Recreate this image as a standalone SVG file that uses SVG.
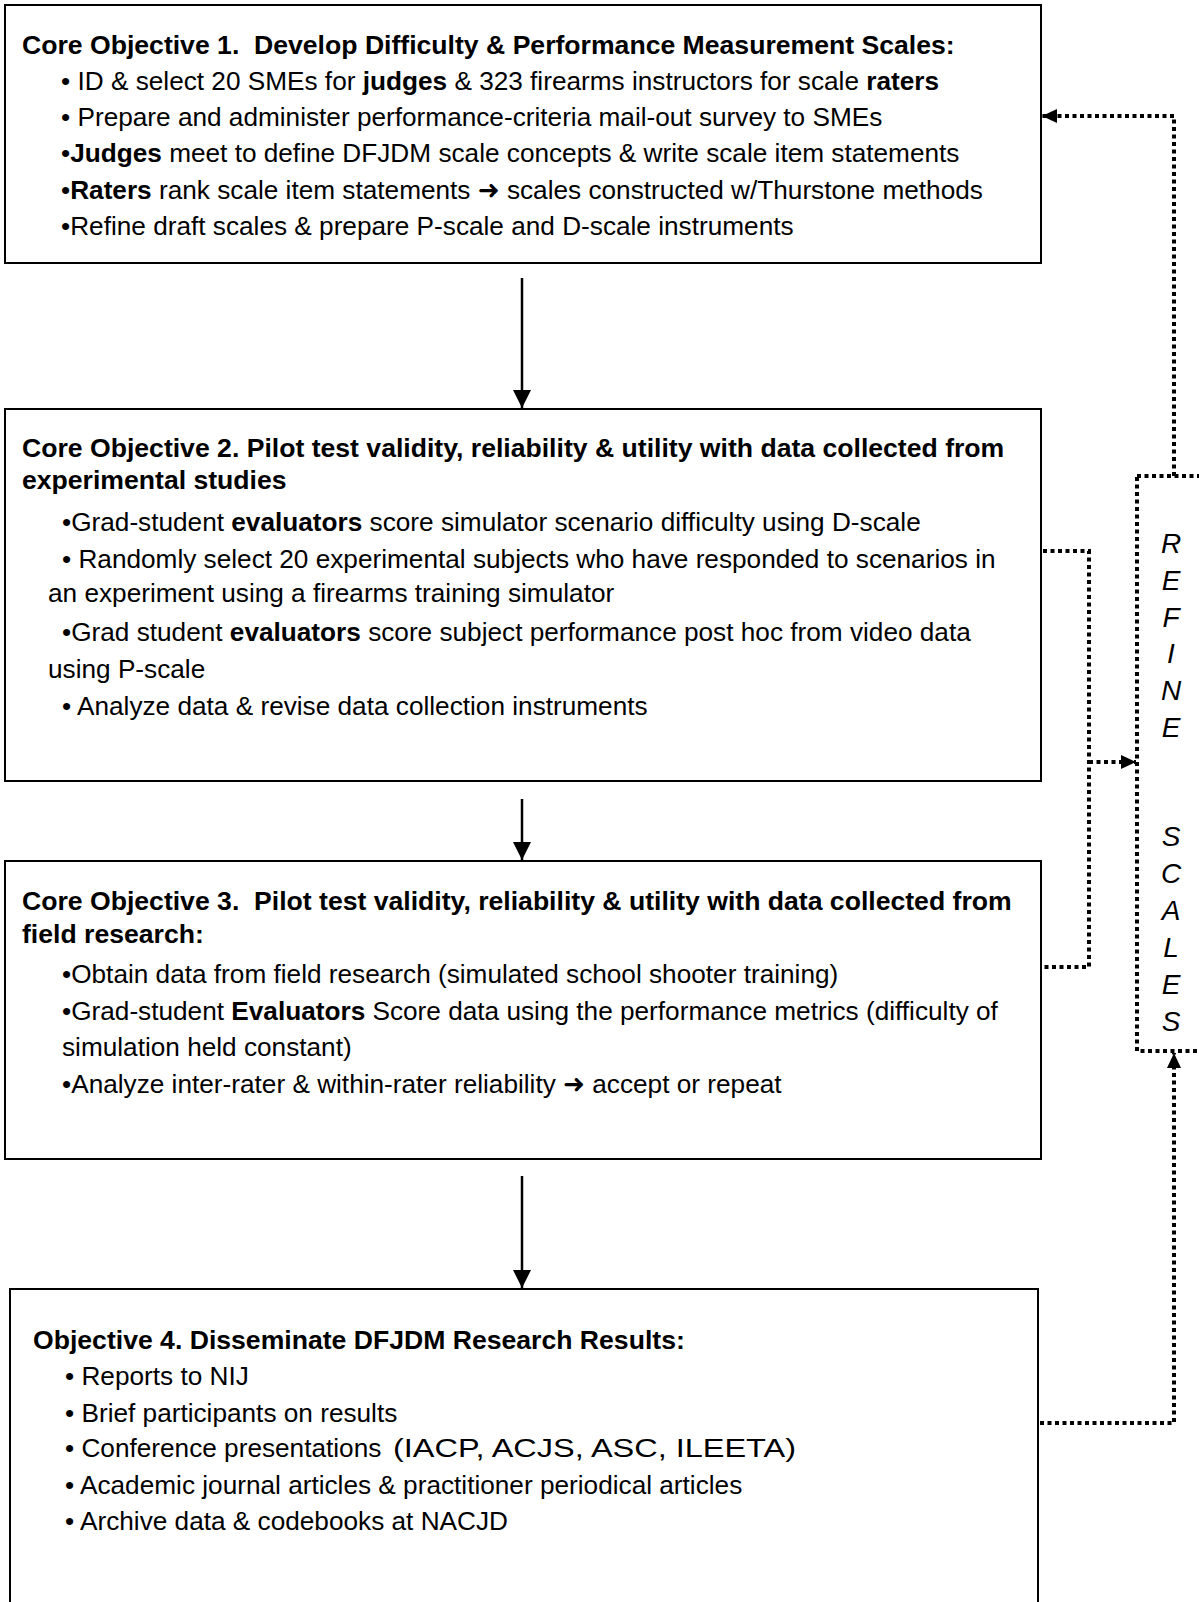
<svg xmlns="http://www.w3.org/2000/svg" width="1199" height="1602" viewBox="0 0 1199 1602">
<defs>
<style>
.box{fill:#fff;stroke:#000;stroke-width:2}
.t{font-family:"Liberation Sans","DejaVu Sans",Arial,sans-serif;font-size:26.2px;fill:#000;white-space:pre}
.b{font-weight:bold}
.tb{font-size:26.6px}
.solid{stroke:#000;stroke-width:2.5;fill:none}
.dot{stroke:#000;stroke-width:4;stroke-dasharray:4 3.5;fill:none}
.ref{font-family:"Liberation Sans","DejaVu Sans",Arial,sans-serif;font-size:28px;font-style:italic;text-anchor:middle;fill:#000}
</style>
<marker id="ah" markerUnits="userSpaceOnUse" markerWidth="18" markerHeight="20" refX="18" refY="9" orient="auto">
<path d="M0,0 L18,9 L0,18 Z" fill="#000"/>
</marker>
<marker id="ahs" markerUnits="userSpaceOnUse" markerWidth="16" markerHeight="16" refX="15" refY="7" orient="auto">
<path d="M0,0 L15,7 L0,14 Z" fill="#000"/>
</marker>
</defs>
<rect width="1199" height="1602" fill="#fff"/>

<g id="connectors">
<line class="solid" x1="522" y1="278" x2="522" y2="408" marker-end="url(#ah)"/>
<line class="solid" x1="522" y1="799" x2="522" y2="860" marker-end="url(#ah)"/>
<line class="solid" x1="522" y1="1176" x2="522" y2="1288" marker-end="url(#ah)"/>
<polyline class="dot" points="1174,476 1174,116 1042,116" marker-end="url(#ahs)"/>
<polyline class="dot" points="1043,551 1089,551 1089,967 1043,967"/>
<line class="dot" x1="1089" y1="762" x2="1136" y2="762" marker-end="url(#ahs)"/>
<polyline class="dot" points="1040,1423 1174,1423 1174,1053" marker-end="url(#ahs)"/>
</g>

<g id="node-refine">
<rect class="dot" x="1137" y="476" width="80" height="575"/>
<text class="ref"><tspan x="1171" y="553">R</tspan><tspan x="1171" y="590">E</tspan><tspan x="1171" y="627">F</tspan><tspan x="1171" y="663">I</tspan><tspan x="1171" y="700">N</tspan><tspan x="1171" y="737">E</tspan><tspan x="1171" y="846">S</tspan><tspan x="1171" y="883">C</tspan><tspan x="1171" y="920">A</tspan><tspan x="1171" y="957">L</tspan><tspan x="1171" y="994">E</tspan><tspan x="1171" y="1031">S</tspan></text>
</g>

<g id="node-obj1">
<rect class="box" x="5" y="5" width="1036" height="258"/>
<text class="t b tb" x="22" y="54">Core Objective 1.  Develop Difficulty &amp; Performance Measurement Scales:</text>
<text class="t" x="61" y="90">• ID &amp; select 20 SMEs for <tspan class="b">judges</tspan> &amp; 323 firearms instructors for scale <tspan class="b">raters</tspan></text>
<text class="t" x="61" y="126">• Prepare and administer performance-criteria mail-out survey to SMEs</text>
<text class="t" x="61" y="162">•<tspan class="b">Judges</tspan> meet to define DFJDM scale concepts &amp; write scale item statements</text>
<text class="t" x="61" y="199">•<tspan class="b">Raters</tspan> rank scale item statements ➜ scales constructed w/Thurstone methods</text>
<text class="t" x="61" y="235">•Refine draft scales &amp; prepare P-scale and D-scale instruments</text>
</g>

<g id="node-obj2">
<rect class="box" x="5" y="409" width="1036" height="372"/>
<text class="t b tb" x="22" y="457">Core Objective 2. Pilot test validity, reliability &amp; utility with data collected from</text>
<text class="t b tb" x="22" y="489">experimental studies</text>
<text class="t" x="62" y="531">•Grad-student <tspan class="b">evaluators</tspan> score simulator scenario difficulty using D-scale</text>
<text class="t" x="62" y="568">• Randomly select 20 experimental subjects who have responded to scenarios in</text>
<text class="t" x="48" y="602">an experiment using a firearms training simulator</text>
<text class="t" x="62" y="641">•Grad student <tspan class="b">evaluators</tspan> score subject performance post hoc from video data</text>
<text class="t" x="48" y="678">using P-scale</text>
<text class="t" x="62" y="715">• Analyze data &amp; revise data collection instruments</text>
</g>

<g id="node-obj3">
<rect class="box" x="5" y="861" width="1036" height="298"/>
<text class="t b tb" x="22" y="910">Core Objective 3.  Pilot test validity, reliability &amp; utility with data collected from</text>
<text class="t b tb" x="22" y="943">field research:</text>
<text class="t" x="62" y="983">•Obtain data from field research (simulated school shooter training)</text>
<text class="t" x="62" y="1020">•Grad-student <tspan class="b">Evaluators</tspan> Score data using the performance metrics (difficulty of</text>
<text class="t" x="62" y="1056">simulation held constant)</text>
<text class="t" x="62" y="1093">•Analyze inter-rater &amp; within-rater reliability ➜ accept or repeat</text>
</g>

<g id="node-obj4">
<path class="box" d="M10,1610 L10,1289 L1038,1289 L1038,1610"/>
<text class="t b tb" x="33" y="1349">Objective 4. Disseminate DFJDM Research Results:</text>
<text class="t" x="65" y="1385">• Reports to NIJ</text>
<text class="t" x="65" y="1422">• Brief participants on results</text>
<text class="t" x="65" y="1457">• Conference presentations </text>
<text class="t" x="393" y="1457" font-size="28.5" textLength="403" lengthAdjust="spacingAndGlyphs">(IACP, ACJS, ASC, ILEETA)</text>
<text class="t" x="65" y="1494">• Academic journal articles &amp; practitioner periodical articles</text>
<text class="t" x="65" y="1530">• Archive data &amp; codebooks at NACJD</text>
</g>
</svg>
